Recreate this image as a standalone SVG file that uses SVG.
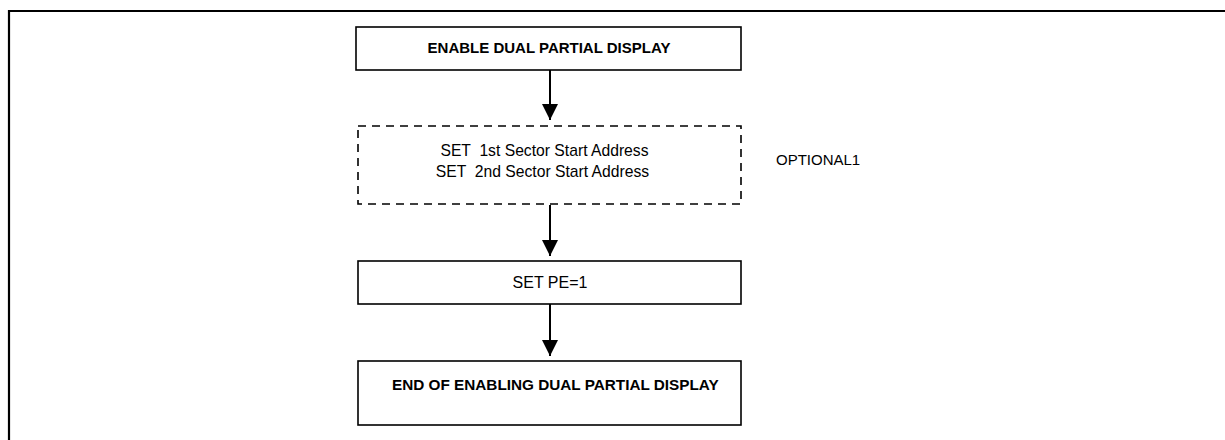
<svg xmlns="http://www.w3.org/2000/svg" width="1225" height="440" viewBox="0 0 1225 440">
<style>
.box{fill:#fff;stroke:#000;stroke-width:1.6}
.dash{fill:none;stroke:#000;stroke-width:1.6;stroke-dasharray:8 6}
.t{font-family:"Liberation Sans",Arial,sans-serif;fill:#000;white-space:pre}
.b{font-weight:bold;font-size:15px}
.r{font-size:15.7px}
.conn{stroke:#000;stroke-width:2;fill:none}
</style>
<defs>
<marker id="ah" markerWidth="16" markerHeight="16" refX="16" refY="8" orient="auto" markerUnits="userSpaceOnUse">
<path d="M0,0 L16,8 L0,16 Z" fill="#000"/>
</marker>
</defs>
<rect x="0" y="0" width="1225" height="440" fill="#fff"/>
<path d="M9,440 L9,11 L1225,11" fill="none" stroke="#000" stroke-width="2.2"/>
<g id="connectors">
<line class="conn" x1="550" y1="70" x2="550" y2="120" marker-end="url(#ah)"/>
<line class="conn" x1="550" y1="205" x2="550" y2="256" marker-end="url(#ah)"/>
<line class="conn" x1="550" y1="304" x2="550" y2="356" marker-end="url(#ah)"/>
</g>
<g id="n1">
<rect class="box" x="356" y="27" width="385" height="43"/>
<text class="t b" x="549" y="53" text-anchor="middle">ENABLE DUAL PARTIAL DISPLAY</text>
</g>
<g id="n2">
<rect class="dash" x="358" y="126" width="383" height="78"/>
<text class="t r" x="544.5" y="156" text-anchor="middle">SET  1st Sector Start Address</text>
<text class="t r" x="542.5" y="177" text-anchor="middle">SET  2nd Sector Start Address</text>
</g>
<g id="optional">
<text class="t" x="776" y="165" font-size="15">OPTIONAL1</text>
</g>
<g id="n3">
<rect class="box" x="358" y="261" width="383" height="43"/>
<text class="t" x="550" y="288" font-size="16" text-anchor="middle">SET PE=1</text>
</g>
<g id="n4">
<rect class="box" x="358" y="361" width="383" height="64"/>
<text class="t" x="392" y="390" font-size="15.3" font-weight="bold">END OF ENABLING DUAL PARTIAL DISPLAY</text>
</g>
</svg>
